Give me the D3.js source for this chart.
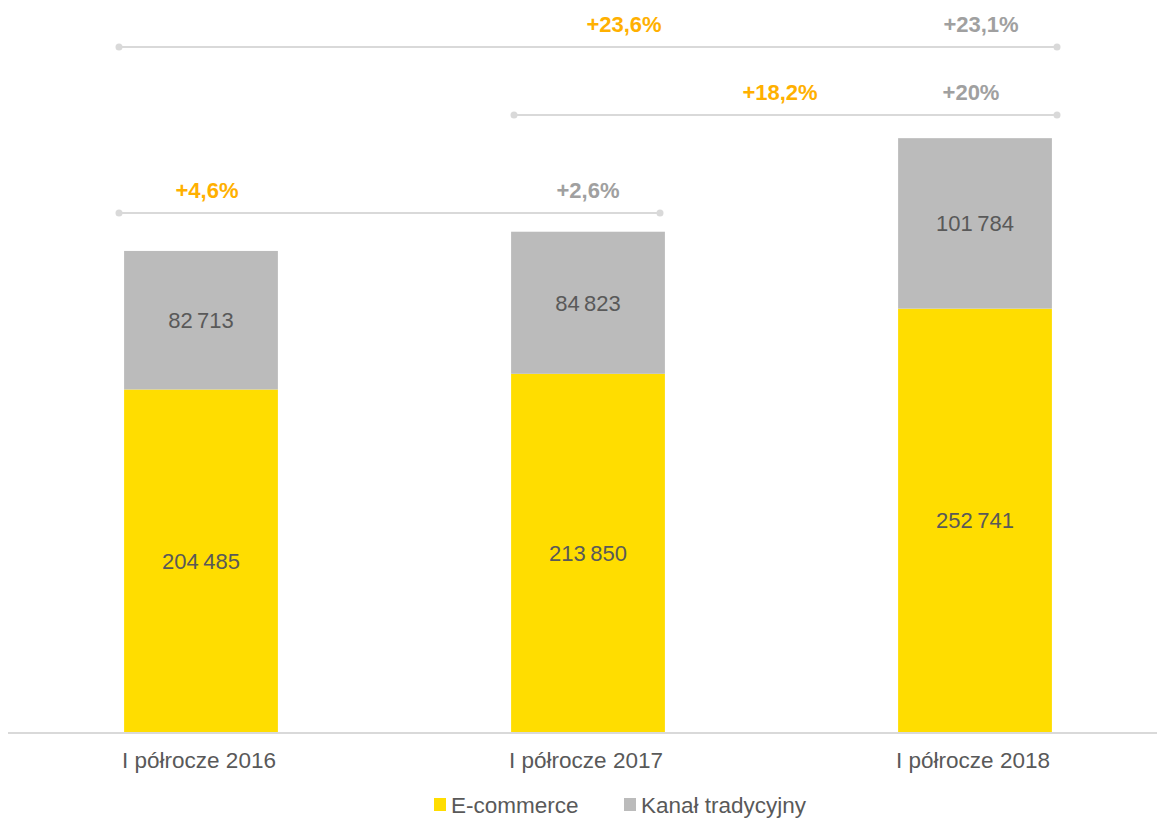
<!DOCTYPE html>
<html>
<head>
<meta charset="utf-8">
<script src="https://cdn.jsdelivr.net/npm/d3@7/dist/d3.min.js"></script>
<style>
  html, body { margin: 0; padding: 0; background: #fff; }
  svg { display: block; font-family: Arial, "Liberation Sans", sans-serif; }
</style>
</head>
<body>
<svg id="chart" width="1157" height="818"></svg>
<script>
// data
const categories = ['I półrocze 2016', 'I półrocze 2017', 'I półrocze 2018'];
const seriesNames = ['E-commerce', 'Kanał tradycyjny'];
const ecommerce = [204485, 213850, 252741];
const traditional = [82713, 84823, 101784];

// growth brackets: from/to category index, e-commerce growth, traditional growth
const growthFrom = [0, 1, 0];
const growthTo = [1, 2, 2];
const growthEcom = ['+4,6%', '+18,2%', '+23,6%'];
const growthTrad = ['+2,6%', '+20%', '+23,1%'];

// layout
const W = 1157, H = 818;
const baseY = 732;
const colors = { ecom: '#FFDD00', trad: '#BBBBBB', text: '#595959',
  ecomPct: '#FFB000', tradPct: '#A0A0A0', rule: '#D9D9D9' };
const bracketY = [213, 115, 47];
const bracketX = [[119, 660], [514, 1057], [119, 1057]];
const ecomLabelX = [207, 780, 624];
const tradLabelX = [588, 971, 981];

const svg = d3.select('#chart');

const x = d3.scaleBand()
  .domain(categories)
  .range([8, 1168])
  .paddingInner(0.6026)
  .paddingOuter(0.3);

const y = d3.scaleLinear()
  .domain([0, 400000])
  .range([baseY, baseY - 670]);

const rows = categories.map((c, i) => ({ cat: c, ecom: ecommerce[i], trad: traditional[i] }));
const stack = d3.stack().keys(['ecom', 'trad'])(rows);

const fmt = v => d3.format(',')(v).replace(/,/g, '\u2009');

// bars
const layers = svg.selectAll('g.layer')
  .data(stack)
  .join('g')
  .attr('class', 'layer')
  .attr('fill', d => colors[d.key]);

layers.selectAll('rect')
  .data(d => d)
  .join('rect')
  .attr('x', d => x(d.data.cat))
  .attr('y', d => y(d[1]))
  .attr('width', x.bandwidth())
  .attr('height', d => y(d[0]) - y(d[1]));

// value labels
layers.selectAll('text')
  .data(d => d)
  .join('text')
  .attr('x', d => x(d.data.cat) + x.bandwidth() / 2)
  .attr('y', d => (y(d[0]) + y(d[1])) / 2)
  .attr('dy', '0.36em')
  .attr('text-anchor', 'middle')
  .attr('font-size', 22)
  .attr('fill', colors.text)
  .text(d => fmt(d[1] - d[0]));

// baseline
svg.append('line')
  .attr('x1', 8).attr('x2', W)
  .attr('y1', baseY + 1).attr('y2', baseY + 1)
  .attr('stroke', colors.rule)
  .attr('stroke-width', 2);

// category axis
const axis = svg.append('g')
  .attr('transform', `translate(0,${baseY})`)
  .call(d3.axisBottom(x).tickSize(0).tickPadding(0));
axis.select('.domain').remove();
axis.selectAll('text')
  .attr('y', 36)
  .attr('dy', 0)
  .attr('dx', -2)
  .attr('font-size', 22.5)
  .attr('font-family', 'Arial, "Liberation Sans", sans-serif')
  .attr('fill', colors.text);

// growth brackets
growthFrom.forEach((f, i) => {
  const g = svg.append('g');
  const [x1, x2] = bracketX[i];
  const by = bracketY[i];
  g.append('line')
    .attr('x1', x1).attr('x2', x2)
    .attr('y1', by).attr('y2', by)
    .attr('stroke', colors.rule)
    .attr('stroke-width', 2);
  g.selectAll('circle')
    .data([x1, x2])
    .join('circle')
    .attr('cx', d => d).attr('cy', by)
    .attr('r', 3.5)
    .attr('fill', colors.rule);
  g.append('text')
    .attr('x', ecomLabelX[i]).attr('y', by - 15)
    .attr('text-anchor', 'middle')
    .attr('font-size', 22).attr('font-weight', 'bold')
    .attr('fill', colors.ecomPct)
    .text(growthEcom[i]);
  g.append('text')
    .attr('x', tradLabelX[i]).attr('y', by - 15)
    .attr('text-anchor', 'middle')
    .attr('font-size', 22).attr('font-weight', 'bold')
    .attr('fill', colors.tradPct)
    .text(growthTrad[i]);
});

// legend
const legendX = [434, 624];
const legend = svg.append('g');
seriesNames.forEach((name, i) => {
  legend.append('rect')
    .attr('x', legendX[i]).attr('y', 798)
    .attr('width', 12).attr('height', 13)
    .attr('fill', i === 0 ? colors.ecom : colors.trad);
  legend.append('text')
    .attr('x', legendX[i] + 17).attr('y', 813)
    .attr('font-size', 22.5)
    .attr('fill', colors.text)
    .text(name);
});
</script>
</body>
</html>
